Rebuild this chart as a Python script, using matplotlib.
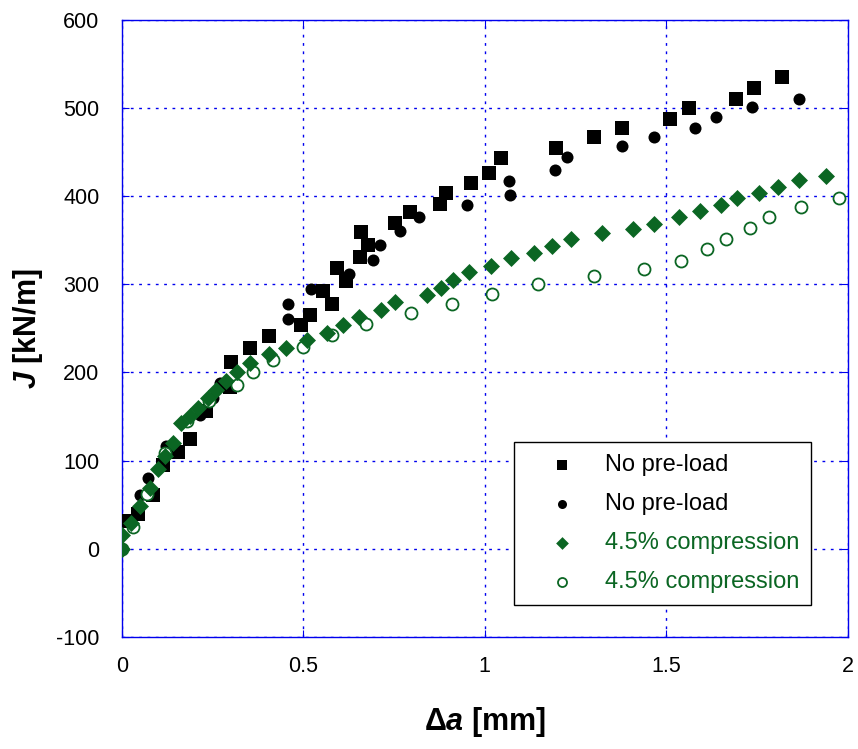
import matplotlib
matplotlib.use("Agg")
import matplotlib.pyplot as plt

plt.rcParams['font.family'] = ['Liberation Sans', 'DejaVu Sans']
plt.rcParams['axes.unicode_minus'] = False
plt.rcParams['mathtext.fontset'] = 'custom'
plt.rcParams['mathtext.rm'] = 'Liberation Sans:bold'
plt.rcParams['mathtext.bfit'] = 'Liberation Sans:italic:bold'
plt.rcParams['mathtext.it'] = 'Liberation Sans:italic:bold'

# No pre-load, squares
sq_x = [0.017, 0.044, 0.086, 0.114, 0.155, 0.187, 0.233, 0.298, 0.302, 0.353, 0.405,
        0.495, 0.518, 0.555, 0.578, 0.593, 0.617, 0.656, 0.66, 0.678, 0.752, 0.793,
        0.876, 0.894, 0.961, 1.011, 1.046, 1.197, 1.30, 1.377, 1.51, 1.562, 1.693,
        1.742, 1.82]
sq_y = [31, 39, 61, 95, 110, 124, 156, 184, 212, 228, 241,
        254, 265, 292, 278, 319, 304, 331, 359, 345, 370, 382,
        391, 404, 415, 427, 443, 455, 467, 478, 488, 500, 510,
        523, 536]

# No pre-load, circles
ci_x = [0.05, 0.072, 0.123, 0.215, 0.25, 0.27, 0.458, 0.458, 0.52, 0.626, 0.692,
        0.711, 0.767, 0.819, 0.952, 1.067, 1.069, 1.193, 1.227, 1.378, 1.466,
        1.579, 1.638, 1.736, 1.866]
ci_y = [61, 80, 116, 152, 171, 188, 278, 261, 295, 312, 328,
        345, 361, 376, 390, 417, 402, 430, 445, 457, 467,
        478, 490, 502, 511]

# 4.5% compression, diamonds
di_x = [0.0, 0.0, 0.025, 0.05, 0.077, 0.1, 0.12, 0.14, 0.164, 0.187, 0.21, 0.237,
        0.26, 0.288, 0.316, 0.353, 0.406, 0.452, 0.51, 0.564, 0.61, 0.654, 0.713,
        0.754, 0.842, 0.88, 0.913, 0.957, 1.017, 1.073, 1.135, 1.185, 1.237, 1.324,
        1.409, 1.466, 1.534, 1.592, 1.65, 1.696, 1.755, 1.808, 1.865, 1.941]
di_y = [0, 15, 29, 48, 69, 90, 105, 120, 143, 150, 160, 171,
        180, 190, 200, 211, 221, 228, 237, 245, 254, 263, 271,
        280, 288, 296, 305, 314, 321, 330, 336, 344, 351, 358,
        363, 369, 376, 383, 390, 398, 404, 411, 418, 423]

# 4.5% compression, open circles
oc_x = [0.0, 0.03, 0.07, 0.12, 0.18, 0.24, 0.316, 0.362, 0.417, 0.498, 0.579,
        0.674, 0.798, 0.91, 1.021, 1.148, 1.30, 1.44, 1.54, 1.613, 1.666, 1.73,
        1.782, 1.87, 1.975]
oc_y = [0, 25, 62, 108, 145, 168, 186, 201, 214, 229, 242,
        255, 267, 278, 289, 300, 310, 318, 327, 340, 352, 364,
        377, 388, 398]

labels = ['No pre-load', 'No pre-load', '4.5% compression', '4.5% compression']
x_ticks = [0, 0.5, 1, 1.5, 2]
x_ticklabels = ['0', '0.5', '1', '1.5', '2']
y_ticks = [-100, 0, 100, 200, 300, 400, 500, 600]

green = '#0b6623'
blue = '#0000ee'

fig = plt.figure(figsize=(8.58, 7.49), dpi=100)
ax = fig.add_axes([0.142, 0.150, 0.846, 0.823])

ax.scatter(sq_x, sq_y, marker='s', s=110, color='black', label=labels[0], zorder=3, linewidths=0)
ax.scatter(ci_x, ci_y, marker='o', s=75, color='black', label=labels[1], zorder=3, linewidths=0)
ax.scatter(di_x, di_y, marker='D', s=75, color=green, label=labels[2], zorder=4, linewidths=0)
ax.scatter(oc_x, oc_y, marker='o', s=75, facecolors='white', edgecolors=green,
           linewidths=1.3, label=labels[3], zorder=3)

ax.set_xlim(0, 2)
ax.set_ylim(-100, 600)
ax.set_xticks(x_ticks)
ax.set_xticklabels(x_ticklabels)
ax.set_yticks(y_ticks)
ax.grid(True, color=blue, linestyle=(0, (2, 4)), linewidth=1.0)
ax.set_axisbelow(True)
for sp in ax.spines.values():
    sp.set_color(blue)
    sp.set_linewidth(1.0)
ax.tick_params(direction='in', color=blue, length=5, labelsize=15.5, pad=16,
               top=True, right=True)
ax.tick_params(axis='x', pad=14)

ax.set_xlabel(r'$\Delta\mathbfit{a}$ [mm]', fontsize=22, fontweight='bold', labelpad=20)
ax.set_ylabel(r'$\mathbfit{J}$ [kN/m]', fontsize=22, fontweight='bold', labelpad=8)

leg = ax.legend(loc='lower right', bbox_to_anchor=(0.950, 0.052), borderaxespad=0,
                fontsize=17, frameon=True, fancybox=False, edgecolor='black',
                framealpha=1, markerscale=0.75, handletextpad=0.3, labelspacing=0.72,
                borderpad=0.5, handlelength=3.05)
leg.get_frame().set_linewidth(1.0)
for t, c in zip(leg.get_texts(), ['black', 'black', green, green]):
    t.set_color(c)

fig.savefig('out.png', dpi=100)
